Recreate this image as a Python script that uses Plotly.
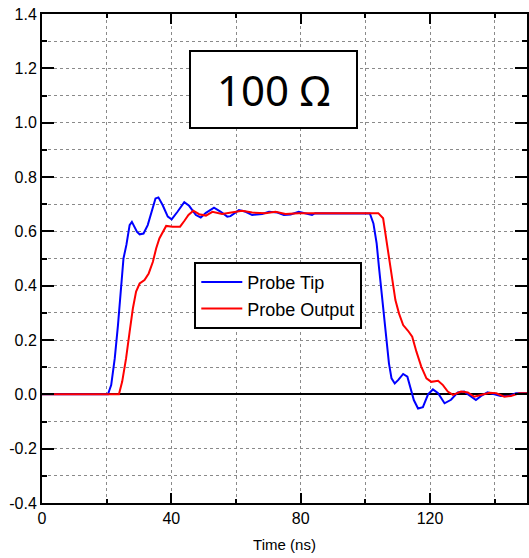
import plotly.graph_objects as go

# Probe tip waveform (ns, V)
t_tip = [0, 20.4, 21.4, 22.5, 23.5, 24.5, 25.2, 26.1, 27.1, 27.8, 28.6, 29.4, 30.2,
         31.4, 32.7, 34.1, 35.1, 36.0, 37.3, 38.9, 40.1, 41.9, 44.0, 45.5, 47.6,
         49.1, 50.7, 53.2, 55.3, 57.3, 58.3, 60.9, 63.0, 65.0, 68.1, 70.2, 72.8,
         74.8, 76.9, 79.4, 81.0, 83.5, 84.5, 90.0, 95.0, 101.4, 102.5, 103.5,
         104.2, 105.0, 105.8, 106.5, 107.3, 108.1, 109.1, 110.2, 111.7, 113.0,
         114.2, 115.0, 116.3, 117.8, 119.4, 120.9, 122.5, 124.5, 126.5, 128.6,
         130.6, 132.7, 134.2, 135.8, 137.8, 139.9, 141.9, 144.5, 146.6, 150.0]
v_tip = [0, 0, 0.034, 0.132, 0.255, 0.402, 0.5, 0.55, 0.623, 0.635, 0.617, 0.598, 0.589,
         0.592, 0.623, 0.685, 0.721, 0.725, 0.697, 0.654, 0.644, 0.672, 0.707, 0.694, 0.66,
         0.651, 0.668, 0.687, 0.672, 0.654, 0.656, 0.678, 0.672, 0.66, 0.664, 0.672, 0.669,
         0.66, 0.662, 0.672, 0.667, 0.66, 0.667, 0.667, 0.667, 0.666, 0.629, 0.556,
         0.47, 0.372, 0.286, 0.2, 0.114, 0.059, 0.04, 0.053, 0.075, 0.065,
         0.016, -0.021, -0.052, -0.047, 0.0, 0.018, 0.004, -0.033, -0.02, 0.007,
         0.01, -0.009, -0.021, -0.006, 0.007, 0.0, -0.006, -0.006, 0.004, 0.004]

# Probe output waveform (ns, V)
t_out = [0, 23.8, 24.8, 26.0, 27.1, 28.1, 29.1, 30.2, 31.7, 33.0, 34.3, 35.3, 36.3,
         37.3, 38.4, 40.4, 42.7, 44.0, 45.3, 46.8, 48.6, 50.7, 52.7, 55.7, 58.8,
         61.9, 65.0, 69.1, 72.2, 75.3, 79.4, 90.0, 100.0, 104.0, 105.5, 106.5,
         107.6, 108.3, 109.3, 110.4, 111.7, 113.2, 114.5, 115.8, 117.3, 118.9,
         120.4, 122.5, 124.0, 125.5, 127.1, 129.6, 131.7, 133.7, 135.8, 138.4,
         140.5, 143.0, 145.0, 147.6, 150.0]
v_out = [0, 0, 0.047, 0.132, 0.23, 0.316, 0.378, 0.408, 0.421, 0.445, 0.488, 0.537, 0.574,
         0.598, 0.62, 0.617, 0.617, 0.638, 0.66, 0.676, 0.663, 0.658, 0.672, 0.664, 0.669,
         0.676, 0.669, 0.667, 0.672, 0.664, 0.667, 0.667, 0.667, 0.667, 0.648, 0.568,
         0.494, 0.42, 0.347, 0.298, 0.255, 0.234, 0.212, 0.157, 0.102, 0.059,
         0.046, 0.05, 0.034, 0.01, -0.002, 0.01, 0.007, -0.009, -0.003, 0.006,
         0.004, -0.009, -0.006, 0.004, 0.004]

x_ticks = [0, 40, 80, 120]
x_labels = ["0", "40", "80", "120"]
y_ticks = [-0.4, -0.2, 0.0, 0.2, 0.4, 0.6, 0.8, 1.0, 1.2, 1.4]
y_labels = ["-0.4", "-0.2", "0.0", "0.2", "0.4", "0.6", "0.8", "1.0", "1.2", "1.4"]

fig = go.Figure()
fig.add_trace(go.Scatter(x=t_tip, y=v_tip, mode="lines", name="Probe Tip",
                         line=dict(color="#0000ff", width=2)))
fig.add_trace(go.Scatter(x=t_out, y=v_out, mode="lines", name="Probe Output",
                         line=dict(color="#ff0000", width=2)))

axis_font = dict(family="Liberation Sans, Arial, sans-serif", size=16, color="black")
grid = dict(showgrid=True, gridcolor="#8a8a8a", gridwidth=1, griddash="dot")

fig.update_xaxes(range=[0, 150], tickmode="array", tickvals=x_ticks, ticktext=x_labels,
                 ticks="inside", ticklen=10, tickwidth=2, tickcolor="black",
                 showline=True, linecolor="black", linewidth=2, mirror="ticks",
                 zeroline=False, tickfont=axis_font,
                 minor=dict(dtick=20, tick0=0, ticks="inside", ticklen=4, tickwidth=2,
                            tickcolor="black", **grid),
                 title=dict(text="Time (ns)", font=dict(family="Liberation Sans, Arial, sans-serif",
                                                        size=15, color="black"), standoff=13),
                 **grid)
fig.update_yaxes(range=[-0.4, 1.4], tickmode="array", tickvals=y_ticks, ticktext=y_labels,
                 ticks="inside", ticklen=12, tickwidth=2, tickcolor="black",
                 showline=True, linecolor="black", linewidth=2, mirror="ticks",
                 zeroline=True, zerolinecolor="black", zerolinewidth=2,
                 tickfont=axis_font,
                 minor=dict(dtick=0.1, tick0=0, ticks="inside", ticklen=5, tickwidth=2,
                            tickcolor="black", **grid),
                 **grid)

fig.add_annotation(text="100 \u03a9", xref="paper", yref="paper", x=0.477, y=0.846,
                   xanchor="center", yanchor="middle", showarrow=False,
                   font=dict(family="Noto Sans, sans-serif", size=42, color="black"),
                   bgcolor="white", bordercolor="black", borderwidth=2, borderpad=5,
                   width=155, height=65)

fig.update_layout(
    width=529, height=558,
    margin=dict(l=42, r=0, t=14, b=55),
    paper_bgcolor="white", plot_bgcolor="white",
    showlegend=True,
    legend=dict(x=0.314, y=0.493, xanchor="left", yanchor="top",
                bgcolor="white", bordercolor="black", borderwidth=2,
                font=dict(family="Liberation Sans, Arial, sans-serif", size=18, color="black"),
                tracegroupgap=0, itemwidth=41),
)

fig.write_html("out.html")
